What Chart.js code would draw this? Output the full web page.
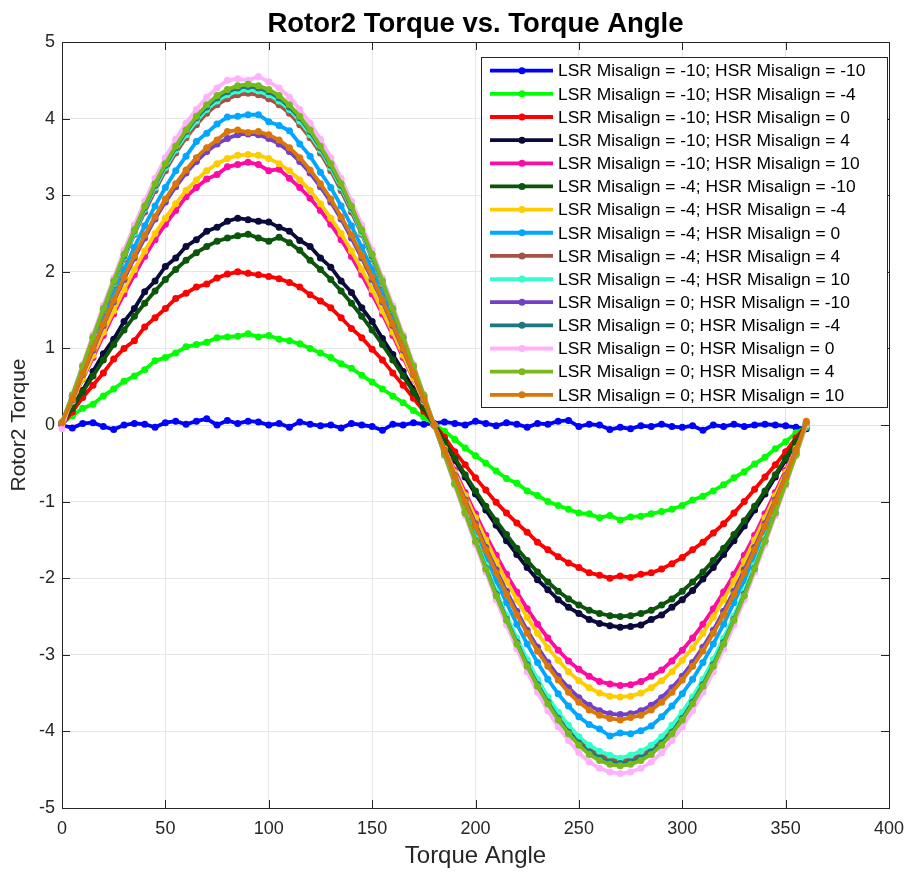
<!DOCTYPE html>
<html>
<head>
<meta charset="utf-8">
<title>Rotor2 Torque vs. Torque Angle</title>
<script src="https://cdn.jsdelivr.net/npm/chart.js@4.4.0/dist/chart.umd.min.js"></script>
<style>
    html, body { margin: 0; padding: 0; background: #fff; }
    #wrap { width: 908px; height: 874px; }
</style>
</head>
<body>
<div id="wrap"><canvas id="torque-chart" width="908" height="874"></canvas></div>
<script>
// --- Data ---
const angles = [0,5,10,15,20,25,30,35,40,45,50,55,60,65,70,75,80,85,90,95,100,105,110,115,120,125,130,135,140,145,150,155,160,165,170,175,180,
    185,190,195,200,205,210,215,220,225,230,235,240,245,250,255,260,265,270,275,280,285,290,295,300,305,310,315,320,325,330,335,340,345,350,355,360];
const xTicks = [0,50,100,150,200,250,300,350,400];
const yTicks = [-5,-4,-3,-2,-1,0,1,2,3,4,5];

const seriesLabels = [
    'LSR Misalign = -10; HSR Misalign = -10',
    'LSR Misalign = -10; HSR Misalign = -4',
    'LSR Misalign = -10; HSR Misalign = 0',
    'LSR Misalign = -10; HSR Misalign = 4',
    'LSR Misalign = -10; HSR Misalign = 10',
    'LSR Misalign = -4; HSR Misalign = -10',
    'LSR Misalign = -4; HSR Misalign = -4',
    'LSR Misalign = -4; HSR Misalign = 0',
    'LSR Misalign = -4; HSR Misalign = 4',
    'LSR Misalign = -4; HSR Misalign = 10',
    'LSR Misalign = 0; HSR Misalign = -10',
    'LSR Misalign = 0; HSR Misalign = -4',
    'LSR Misalign = 0; HSR Misalign = 0',
    'LSR Misalign = 0; HSR Misalign = 4',
    'LSR Misalign = 0; HSR Misalign = 10'
];
const seriesColors = ['#0000ff','#00ff00','#ff0000','#0a0a3c','#ff0aa5','#0b560b','#ffcc00','#00a6ff',
    '#a5524a','#33ffcc','#7040c8','#1a7a80','#ffb0ff','#78b91e','#d9770a'];

const torqueL10H10 = [0.00,-0.04,0.02,0.03,-0.02,-0.06,0.00,0.02,0.01,-0.03,0.03,0.05,0.01,0.05,0.08,0.00,0.06,0.02,0.05,0.04,0.00,0.02,-0.03,0.04,0.01,-0.01,0.00,-0.04,0.02,0.00,-0.02,-0.07,0.01,0.00,0.03,0.01,0.02,
    0.04,0.02,0.00,0.05,0.02,-0.01,0.03,0.01,-0.03,0.02,0.01,0.05,0.06,-0.02,0.01,0.00,-0.06,-0.03,-0.05,-0.01,-0.02,0.01,-0.02,-0.03,-0.01,-0.07,0.00,-0.02,0.01,-0.02,0.00,0.01,0.00,-0.01,-0.03,-0.05];
const torqueL10H4 = [0.02,0.12,0.22,0.27,0.38,0.47,0.57,0.64,0.72,0.84,0.88,0.94,1.02,1.05,1.08,1.14,1.15,1.16,1.19,1.15,1.17,1.12,1.10,1.06,1.00,0.94,0.88,0.80,0.74,0.65,0.56,0.47,0.38,0.29,0.19,0.10,0.01,
    -0.08,-0.19,-0.30,-0.40,-0.50,-0.60,-0.70,-0.76,-0.86,-0.92,-1.00,-1.05,-1.10,-1.15,-1.16,-1.21,-1.18,-1.24,-1.20,-1.19,-1.16,-1.13,-1.10,-1.05,-0.98,-0.93,-0.86,-0.78,-0.69,-0.61,-0.51,-0.42,-0.31,-0.22,-0.10,-0.03];
const torqueL10H0 = [0.00,0.17,0.36,0.52,0.68,0.86,1.00,1.10,1.28,1.40,1.52,1.65,1.72,1.80,1.84,1.92,1.97,2.00,1.98,1.96,1.94,1.91,1.86,1.80,1.70,1.62,1.53,1.40,1.26,1.14,0.99,0.85,0.68,0.52,0.35,0.18,0.01,
    -0.16,-0.35,-0.52,-0.69,-0.85,-1.01,-1.15,-1.28,-1.40,-1.53,-1.63,-1.72,-1.80,-1.86,-1.93,-1.96,-2.00,-1.97,-1.99,-1.95,-1.93,-1.88,-1.81,-1.73,-1.63,-1.53,-1.41,-1.29,-1.15,-1.00,-0.84,-0.68,-0.52,-0.35,-0.17,0.00];
const torqueL10Hp4 = [0.02,0.24,0.45,0.70,0.93,1.12,1.35,1.52,1.74,1.88,2.07,2.18,2.33,2.42,2.53,2.58,2.66,2.70,2.68,2.66,2.65,2.58,2.53,2.41,2.33,2.18,2.06,1.88,1.73,1.53,1.35,1.13,0.92,0.70,0.47,0.23,0.01,
    -0.22,-0.46,-0.68,-0.90,-1.11,-1.31,-1.51,-1.69,-1.86,-2.02,-2.15,-2.28,-2.38,-2.46,-2.54,-2.59,-2.62,-2.64,-2.63,-2.61,-2.54,-2.48,-2.38,-2.28,-2.16,-2.01,-1.86,-1.69,-1.51,-1.32,-1.11,-0.90,-0.68,-0.46,-0.23,0.00];
const torqueL10Hp10 = [0.01,0.30,0.60,0.88,1.17,1.45,1.71,1.96,2.20,2.42,2.62,2.80,2.98,3.10,3.21,3.27,3.37,3.40,3.43,3.40,3.32,3.34,3.22,3.10,2.96,2.80,2.62,2.42,2.20,1.96,1.71,1.45,1.17,0.88,0.60,0.30,0.00,
    -0.30,-0.59,-0.88,-1.16,-1.44,-1.70,-1.95,-2.18,-2.40,-2.60,-2.78,-2.94,-3.08,-3.19,-3.28,-3.35,-3.38,-3.40,-3.39,-3.35,-3.28,-3.20,-3.08,-2.94,-2.78,-2.60,-2.40,-2.18,-1.95,-1.70,-1.44,-1.16,-0.88,-0.59,-0.30,0.01];
const torqueL4H10 = [0.02,0.22,0.43,0.64,0.85,1.05,1.24,1.42,1.59,1.75,1.90,2.03,2.15,2.25,2.33,2.40,2.44,2.47,2.49,2.44,2.40,2.45,2.38,2.28,2.15,2.03,1.90,1.75,1.59,1.42,1.24,1.05,0.85,0.64,0.43,0.22,0.00,
    -0.22,-0.43,-0.65,-0.86,-1.06,-1.25,-1.43,-1.61,-1.77,-1.92,-2.05,-2.17,-2.27,-2.35,-2.42,-2.46,-2.49,-2.50,-2.49,-2.46,-2.42,-2.35,-2.27,-2.17,-2.05,-1.92,-1.77,-1.61,-1.43,-1.25,-1.06,-0.86,-0.65,-0.43,-0.22,0.00];
const torqueL4H4 = [0.02,0.31,0.61,0.91,1.21,1.49,1.77,2.03,2.27,2.50,2.70,2.89,3.06,3.20,3.32,3.41,3.48,3.52,3.53,3.52,3.48,3.41,3.32,3.20,3.06,2.89,2.70,2.50,2.27,2.03,1.77,1.49,1.21,0.91,0.61,0.31,0.00,
    -0.31,-0.62,-0.92,-1.21,-1.50,-1.78,-2.04,-2.28,-2.51,-2.72,-2.91,-3.07,-3.22,-3.34,-3.43,-3.50,-3.54,-3.55,-3.54,-3.50,-3.43,-3.34,-3.22,-3.07,-2.91,-2.72,-2.51,-2.28,-2.04,-1.78,-1.50,-1.21,-0.92,-0.62,-0.31,0.00];
const torqueL4H0 = [0.03,0.35,0.70,1.05,1.39,1.71,2.03,2.32,2.60,2.86,3.10,3.32,3.51,3.70,3.81,3.93,4.02,4.03,4.05,4.05,3.96,3.91,3.84,3.67,3.51,3.30,3.10,2.86,2.60,2.32,2.03,1.71,1.39,1.05,0.70,0.35,0.00,
    -0.35,-0.70,-1.05,-1.39,-1.71,-2.03,-2.32,-2.60,-2.86,-3.10,-3.32,-3.51,-3.67,-3.81,-3.91,-3.97,-4.06,-4.02,-4.03,-3.99,-3.93,-3.81,-3.67,-3.51,-3.32,-3.10,-2.86,-2.60,-2.32,-2.03,-1.71,-1.39,-1.05,-0.70,-0.35,0.01];
const torqueL4Hp4 = [0.03,0.38,0.75,1.12,1.48,1.83,2.17,2.49,2.78,3.06,3.32,3.55,3.75,3.92,4.07,4.18,4.26,4.31,4.33,4.31,4.26,4.18,4.07,3.92,3.75,3.55,3.32,3.06,2.78,2.49,2.17,1.83,1.48,1.12,0.75,0.38,0.00,
    -0.38,-0.76,-1.13,-1.50,-1.85,-2.19,-2.51,-2.82,-3.10,-3.36,-3.59,-3.79,-3.97,-4.12,-4.23,-4.31,-4.36,-4.38,-4.36,-4.31,-4.23,-4.12,-3.97,-3.79,-3.59,-3.36,-3.10,-2.82,-2.51,-2.19,-1.85,-1.50,-1.13,-0.76,-0.38,0.00];
const torqueL4Hp10 = [0.03,0.38,0.76,1.13,1.50,1.85,2.19,2.51,2.82,3.10,3.36,3.59,3.79,3.97,4.12,4.23,4.31,4.36,4.38,4.36,4.31,4.23,4.12,3.97,3.79,3.59,3.36,3.10,2.82,2.51,2.19,1.85,1.50,1.13,0.76,0.38,0.00,
    -0.38,-0.75,-1.12,-1.48,-1.83,-2.17,-2.49,-2.78,-3.06,-3.32,-3.55,-3.75,-3.92,-4.07,-4.18,-4.26,-4.31,-4.35,-4.31,-4.26,-4.18,-4.07,-3.92,-3.75,-3.55,-3.32,-3.06,-2.78,-2.49,-2.17,-1.83,-1.48,-1.12,-0.75,-0.38,0.02];
const torqueL0H10 = [0.02,0.33,0.66,0.98,1.30,1.61,1.90,2.18,2.44,2.69,2.91,3.11,3.29,3.44,3.57,3.67,3.74,3.79,3.80,3.79,3.74,3.67,3.57,3.44,3.29,3.11,2.91,2.69,2.44,2.18,1.90,1.61,1.30,0.98,0.66,0.33,0.00,
    -0.33,-0.66,-0.98,-1.29,-1.60,-1.89,-2.17,-2.43,-2.68,-2.90,-3.10,-3.28,-3.43,-3.56,-3.66,-3.73,-3.77,-3.78,-3.77,-3.73,-3.66,-3.56,-3.43,-3.28,-3.10,-2.90,-2.68,-2.43,-2.17,-1.89,-1.60,-1.29,-0.98,-0.66,-0.33,0.02];
const torqueL0H4 = [0.03,0.38,0.77,1.14,1.51,1.87,2.21,2.54,2.84,3.13,3.39,3.62,3.83,4.01,4.15,4.27,4.35,4.40,4.42,4.40,4.35,4.27,4.15,4.01,3.83,3.62,3.39,3.13,2.84,2.54,2.21,1.87,1.51,1.14,0.77,0.38,0.00,
    -0.38,-0.77,-1.14,-1.51,-1.87,-2.21,-2.54,-2.84,-3.13,-3.39,-3.62,-3.83,-4.01,-4.15,-4.27,-4.35,-4.40,-4.42,-4.40,-4.35,-4.27,-4.15,-4.01,-3.83,-3.62,-3.39,-3.13,-2.84,-2.54,-2.21,-1.87,-1.51,-1.14,-0.77,-0.38,0.02];
const torqueL0H0 = [-0.05,0.40,0.79,1.18,1.56,1.92,2.28,2.61,2.92,3.22,3.49,3.73,3.94,4.12,4.28,4.40,4.50,4.52,4.50,4.55,4.48,4.40,4.28,4.12,3.94,3.73,3.49,3.22,2.92,2.61,2.28,1.92,1.56,1.18,0.79,0.40,0.00,
    -0.40,-0.79,-1.18,-1.56,-1.92,-2.28,-2.61,-2.92,-3.22,-3.49,-3.73,-3.94,-4.12,-4.28,-4.40,-4.48,-4.53,-4.55,-4.53,-4.48,-4.40,-4.28,-4.12,-3.94,-3.73,-3.49,-3.22,-2.92,-2.61,-2.28,-1.92,-1.56,-1.18,-0.79,-0.40,0.00];
const torqueL0Hp4 = [0.04,0.39,0.77,1.15,1.52,1.88,2.23,2.55,2.86,3.15,3.41,3.64,3.85,4.03,4.18,4.30,4.38,4.43,4.45,4.43,4.38,4.30,4.18,4.03,3.85,3.64,3.41,3.15,2.86,2.55,2.23,1.88,1.52,1.15,0.77,0.39,0.00,
    -0.39,-0.77,-1.15,-1.52,-1.88,-2.23,-2.55,-2.86,-3.15,-3.41,-3.64,-3.85,-4.03,-4.18,-4.30,-4.38,-4.43,-4.45,-4.43,-4.38,-4.30,-4.18,-4.03,-3.85,-3.64,-3.41,-3.15,-2.86,-2.55,-2.23,-1.88,-1.52,-1.15,-0.77,-0.39,0.03];
const torqueL0Hp10 = [0.03,0.34,0.67,1.00,1.32,1.63,1.93,2.21,2.48,2.72,2.95,3.15,3.33,3.49,3.62,3.72,3.83,3.85,3.82,3.83,3.79,3.72,3.62,3.49,3.33,3.15,2.95,2.72,2.48,2.21,1.93,1.63,1.32,1.00,0.67,0.34,0.00,
    -0.34,-0.67,-1.00,-1.32,-1.63,-1.93,-2.21,-2.48,-2.72,-2.95,-3.15,-3.33,-3.49,-3.62,-3.72,-3.79,-3.83,-3.85,-3.82,-3.79,-3.72,-3.62,-3.49,-3.33,-3.15,-2.95,-2.72,-2.48,-2.21,-1.93,-1.63,-1.32,-1.00,-0.67,-0.34,0.05];

const seriesValues = [torqueL10H10, torqueL10H4, torqueL10H0, torqueL10Hp4, torqueL10Hp10,
    torqueL4H10, torqueL4H4, torqueL4H0, torqueL4Hp4, torqueL4Hp10,
    torqueL0H10, torqueL0H4, torqueL0H0, torqueL0Hp4, torqueL0Hp10];

const FONT = '"Liberation Sans", Arial, Helvetica, sans-serif';

// --- MATLAB-like frame, title and legend ---
const matlabFrame = {
    id: 'matlabFrame',
    beforeDatasetsDraw(chart) {
        const {ctx, chartArea: a, scales} = chart;
        ctx.save();
        ctx.strokeStyle = '#262626';
        ctx.lineWidth = 1;
        ctx.beginPath();
        xTicks.forEach(v => {
            const px = Math.round(scales.x.getPixelForValue(v)) + 0.5;
            ctx.moveTo(px, a.bottom); ctx.lineTo(px, a.bottom - 8);
            ctx.moveTo(px, a.top); ctx.lineTo(px, a.top + 8);
        });
        yTicks.forEach(v => {
            const py = Math.round(scales.y.getPixelForValue(v)) + 0.5;
            ctx.moveTo(a.left, py); ctx.lineTo(a.left + 8, py);
            ctx.moveTo(a.right, py); ctx.lineTo(a.right - 8, py);
        });
        ctx.stroke();
        ctx.strokeRect(Math.round(a.left) + 0.5, Math.round(a.top) + 0.5,
            Math.round(a.right - a.left), Math.round(a.bottom - a.top));
        ctx.restore();
    },
    afterDraw(chart, args, opts) {
        const {ctx, chartArea: a} = chart;
        const lg = opts.legend;
        ctx.save();
        // legend box
        ctx.fillStyle = '#fff';
        ctx.fillRect(lg.left, lg.top, lg.width, lg.height);
        ctx.strokeStyle = '#262626';
        ctx.lineWidth = 1;
        ctx.strokeRect(lg.left + 0.5, lg.top + 0.5, lg.width, lg.height);
        ctx.font = '17.4px ' + FONT;
        ctx.textBaseline = 'middle';
        ctx.textAlign = 'left';
        chart.data.datasets.forEach((ds, i) => {
            const cy = lg.top + lg.firstRow + i * lg.rowHeight;
            ctx.strokeStyle = ds.borderColor;
            ctx.lineWidth = 3.8;
            ctx.beginPath();
            ctx.moveTo(lg.left + 9, cy);
            ctx.lineTo(lg.left + 72, cy);
            ctx.stroke();
            ctx.fillStyle = ds.borderColor;
            ctx.beginPath();
            ctx.arc(lg.left + 41, cy, 3.5, 0, Math.PI * 2);
            ctx.fill();
            ctx.fillStyle = '#000';
            ctx.fillText(ds.label, lg.left + 77, cy + 1);
        });
        // title
        ctx.font = 'bold 27.5px ' + FONT;
        ctx.textAlign = 'center';
        ctx.textBaseline = 'alphabetic';
        ctx.fillStyle = '#000';
        ctx.fillText(opts.title, (a.left + a.right) / 2, 32);
        ctx.restore();
    }
};

const datasets = seriesValues.map((vals, i) => ({
    label: seriesLabels[i],
    data: vals.map((v, k) => ({x: angles[k], y: v})),
    borderColor: seriesColors[i],
    backgroundColor: seriesColors[i],
    pointBackgroundColor: seriesColors[i],
    borderWidth: 3.8,
    pointRadius: 3.5,
    pointHoverRadius: 3.5,
    pointBorderWidth: 0,
    tension: 0,
    clip: 8,
    order: seriesValues.length - i  // later series on top, as in MATLAB
}));

new Chart(document.getElementById('torque-chart'), {
    type: 'line',
    data: { datasets: datasets },
    plugins: [matlabFrame],
    options: {
        responsive: false,
        animation: false,
        devicePixelRatio: 1,
        layout: { padding: { left: 0, top: 42, right: 19, bottom: 0 } },
        plugins: {
            legend: { display: false },
            tooltip: { enabled: false },
            matlabFrame: {
                title: 'Rotor2 Torque vs. Torque Angle',
                legend: { left: 481, top: 57, width: 406, height: 350, firstRow: 13.7, rowHeight: 23.15 }
            }
        },
        scales: {
            x: {
                type: 'linear',
                min: 0, max: 400,
                afterFit(scale) {
                    scale.height = 66;
                    scale.paddingLeft = 0;
                    scale.paddingRight = 0;
                },
                ticks: { stepSize: 50, padding: 10, color: '#262626', font: { family: FONT, size: 18 } },
                grid: { color: '#e6e6e6', drawTicks: false },
                border: { display: false },
                title: { display: true, text: 'Torque Angle', color: '#262626', padding: { top: 0, bottom: 3 },
                    font: { family: FONT, size: 24 } }
            },
            y: {
                type: 'linear',
                min: -5, max: 5,
                afterFit(scale) { scale.width = 62; },
                ticks: { stepSize: 1, padding: 7, color: '#262626', font: { family: FONT, size: 18 } },
                grid: { color: '#e6e6e6', drawTicks: false },
                border: { display: false },
                title: { display: true, text: 'Rotor2 Torque', color: '#262626', padding: { top: 7, bottom: 0 },
                    font: { family: FONT, size: 21 } }
            }
        }
    }
});
</script>
</body>
</html>
